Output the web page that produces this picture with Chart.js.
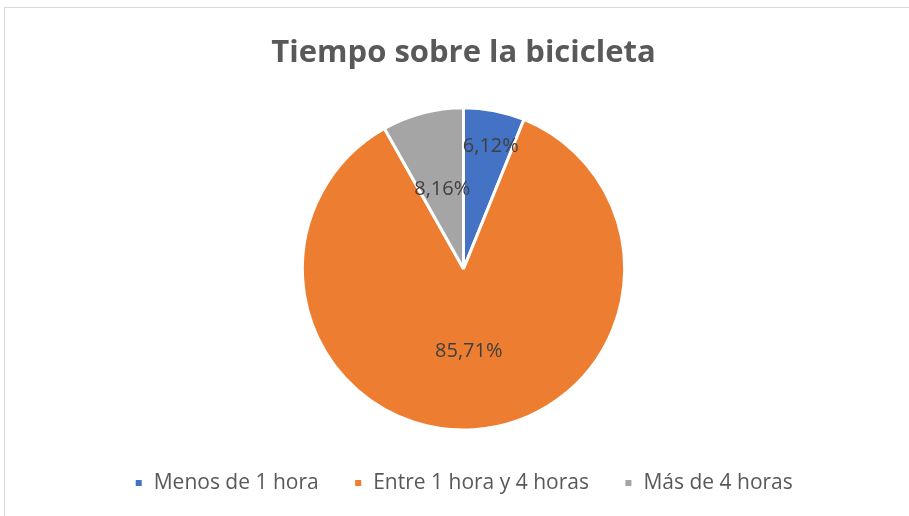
<!DOCTYPE html>
<html><head><meta charset="utf-8">
<script src="https://cdn.jsdelivr.net/npm/chart.js@4"></script>
<style>
html,body{margin:0;padding:0;background:#fff;}
#wrap{position:relative;width:909px;height:516px;}
#frame{position:absolute;left:4px;top:7px;width:920px;height:520px;border-left:1px solid #d9d9d9;border-top:1px solid #d9d9d9;pointer-events:none;}
canvas{position:absolute;left:0;top:0;}
</style></head>
<body>
<div id="wrap"><canvas id="c" width="909" height="516"></canvas><div id="frame"></div></div>
<script>
const categories = ["Menos de 1 hora", "Entre 1 hora y 4 horas", "Más de 4 horas"];
const values = [6.12, 85.71, 8.16];
const colors = ["#4472C4", "#ED7D31", "#A5A5A5"];
const labelRadius = [0.79, 0.51, 0.52];

const labelPlugin = {
  id: 'sliceLabels',
  afterDatasetsDraw(chart) {
    const ctx = chart.ctx;
    const meta = chart.getDatasetMeta(0);
    ctx.save();
    ctx.font = '20px "Open Sans", sans-serif';
    ctx.fillStyle = '#404040';
    ctx.textAlign = 'center';
    ctx.textBaseline = 'middle';
    meta.data.forEach((arc, i) => {
      const p = arc.getProps(['x','y','startAngle','endAngle','outerRadius'], true);
      const mid = (p.startAngle + p.endAngle) / 2;
      const r = p.outerRadius * labelRadius[i];
      const txt = values[i].toFixed(2).replace('.', ',') + '%';
      ctx.fillText(txt, p.x + Math.cos(mid) * r + (i === 0 ? 3 : 0), p.y + Math.sin(mid) * r + (i === 1 ? 0 : 2));
    });
    ctx.restore();
  }
};

new Chart(document.getElementById('c'), {
  type: 'pie',
  data: {
    labels: categories,
    datasets: [{ data: values, backgroundColor: colors, borderColor: '#ffffff', borderWidth: 3 }]
  },
  options: {
    responsive: false,
    animation: false,
    layout: { padding: { top: 0, bottom: 12.5, left: 18 } },
    plugins: {
      tooltip: { enabled: false },
      title: {
        display: true,
        text: 'Tiempo sobre la bicicleta',
        color: '#595959',
        font: { family: '"Open Sans", sans-serif', size: 31, weight: 'bold' },
        padding: { top: 35, bottom: 34 }
      },
      legend: {
        position: 'bottom',
        title: { display: true, text: ' ', font: { size: 1, lineHeight: 1 }, padding: { top: 5, bottom: 0 } },
        labels: {
          color: '#595959',
          font: { family: '"Open Sans", sans-serif', size: 21, lineHeight: 1.2 },
          boxWidth: 9, boxHeight: 9, padding: 35
        }
      }
    }
  },
  plugins: [labelPlugin]
});
</script>
</body></html>
